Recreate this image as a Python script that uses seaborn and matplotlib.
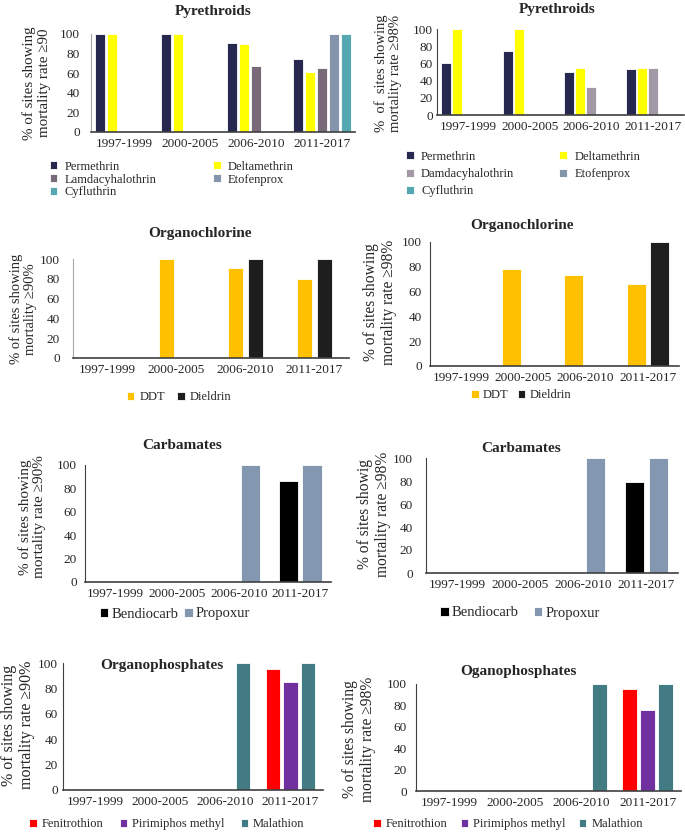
import numpy as np
import pandas as pd
import matplotlib
matplotlib.use("Agg")
import matplotlib.pyplot as plt
import seaborn as sns

# ---------------- data ----------------
periods = ["1997-1999", "2000-2005", "2006-2010", "2011-2017"]

pyr90_series = ["Permethrin", "Deltamethrin", "Lamdacyhalothrin", "Etofenprox", "Cyfluthrin"]
pyr90_permethrin = [100, 100, 91, 74]
pyr90_deltamethrin = [100, 100, 90, 61]
pyr90_lamda = [None, None, 67, 65]
pyr90_etofenprox = [None, None, None, 100]
pyr90_cyfluthrin = [None, None, None, 100]
pyr90_colors = ["#262850", "#ffff00", "#796a79", "#8494ab", "#55a7b2"]

pyr98_series = ["Permethrin", "Deltamethrin", "Damdacyhalothrin", "Etofenprox", "Cyfluthrin"]
pyr98_permethrin = [60, 75, 50, 53]
pyr98_deltamethrin = [100, 100, 55, 55]
pyr98_damda = [None, None, 33, 55]
pyr98_etofenprox = [None, None, None, None]
pyr98_cyfluthrin = [None, None, None, None]
pyr98_colors = ["#262850", "#ffff00", "#a398a6", "#8494ab", "#55a7b2"]

oc_series = ["DDT", "Dieldrin"]
oc90_ddt = [None, 100, 91, 80]
oc90_dieldrin = [None, None, 100, 100]
oc98_ddt = [None, 78, 73, 66]
oc98_dieldrin = [None, None, None, 100]
oc_colors = ["#ffc000", "#1e1e1e"]

carb_series = ["Bendiocarb", "Propoxur"]
carb90_bendiocarb = [None, None, None, 86]
carb90_propoxur = [None, None, 100, 100]
carb98_bendiocarb = [None, None, None, 79]
carb98_propoxur = [None, None, 100, 100]
carb_colors = ["#000000", "#8497b0"]

op_series = ["Fenitrothion", "Pirimiphos methyl", "Malathion"]
op90_fenitrothion = [None, None, None, 95]
op90_pirimiphos = [None, None, None, 85]
op90_malathion = [None, None, 100, 100]
op98_fenitrothion = [None, None, None, 95]
op98_pirimiphos = [None, None, None, 76]
op98_malathion = [None, None, 100, 100]
op_colors = ["#ff0000", "#7030a0", "#427b84"]

# ---------------- style ----------------
sns.set_style("white")
plt.rcParams["font.family"] = ["Liberation Serif", "DejaVu Serif"]

W, H = 685, 832
fig = plt.figure(figsize=(W / 100, H / 100), dpi=100)


def long_df(series, values):
    rows = []
    for s, vals in zip(series, values):
        for p, v in zip(periods, vals):
            if v is not None:
                rows.append({"period": p, "series": s, "value": float(v)})
    return pd.DataFrame(rows, columns=["period", "series", "value"])


def px_rect(x0, x1, ytop, ybot):
    return [x0 / W, 1 - ybot / H, (x1 - x0) / W, (ybot - ytop) / H]


def fx(x):
    return x / W


def fy(y):
    return 1 - y / H


panels = [
    dict(series=pyr90_series,
         values=[pyr90_permethrin, pyr90_deltamethrin, pyr90_lamda, pyr90_etofenprox, pyr90_cyfluthrin],
         colors=pyr90_colors, rect=(91, 355, 34, 132), width=0.91, gap=0.17,
         title="Pyrethroids", tpos=(213, 12),
         ylabel="% of sites showing\nmortality rate \u226590", ypos=(36.5, 83), ypad=8, yfs=10.8,
         leg=dict(ncol=2, order=[0, 2, 4, 1, 3], loc="center left", pos=(50, 179.5), fs=9,
                  hp=0.6, cs=4.5, ls=0.08), lspine="#a6a6a6"),
    dict(series=pyr98_series,
         values=[pyr98_permethrin, pyr98_deltamethrin, pyr98_damda, pyr98_etofenprox, pyr98_cyfluthrin],
         colors=pyr98_colors, rect=(437, 684, 29, 115), width=0.887, gap=0.09,
         title="Pyrethroids", tpos=(557, 9),
         ylabel="%  of  sites showing\nmortality rate \u226598%", ypos=(388, 73), ypad=3, yfs=10.5,
         leg=dict(ncol=2, order=[0, 2, 4, 1, 3], loc="center left", pos=(406, 174), fs=9,
                  hp=0.6, cs=3.6, ls=0.42), lspine="#404040"),
    dict(series=oc_series, values=[oc90_ddt, oc90_dieldrin],
         colors=oc_colors, rect=(73, 349, 259, 358), width=0.566, gap=0.23,
         title="Organochlorine", tpos=(200, 233),
         ylabel="% of sites showing\nmortality \u226590%", ypos=(23, 309), ypad=9.4, yfs=10.5,
         leg=dict(ncol=2, order=[0, 1], loc="center", pos=(179, 397), fs=9,
                  hp=0.4, cs=0.96, ls=0.2), lspine="#a6a6a6"),
    dict(series=oc_series, values=[oc98_ddt, oc98_dieldrin],
         colors=oc_colors, rect=(430, 679, 242, 366), width=0.758, gap=0.19,
         title="Organochlorine", tpos=(522, 226),
         ylabel="% of sites showing\nmortality rate \u226598%", ypos=(380, 302), ypad=5.8, yfs=11.2,
         leg=dict(ncol=2, order=[0, 1], loc="center", pos=(521, 395), fs=9,
                  hp=0.35, cs=0.72, ls=0.2), lspine="#404040"),
    dict(series=carb_series, values=[carb90_bendiocarb, carb90_propoxur],
         colors=carb_colors, rect=(85, 331, 465, 582), width=0.764, gap=0.19,
         title="Carbamates", tpos=(182, 445),
         ylabel="% of sites showing\nmortality rate \u226590%", ypos=(32, 517), ypad=5.8, yfs=11,
         leg=dict(ncol=2, order=[0, 1], loc="center", pos=(175, 614), fs=10.5,
                  hp=0.2, cs=0.4, ls=0.2), lspine="#404040"),
    dict(series=carb_series, values=[carb98_bendiocarb, carb98_propoxur],
         colors=carb_colors, rect=(426, 678, 458, 573), width=0.76, gap=0.21,
         title="Carbamates", tpos=(521, 449),
         ylabel="% of sites showig\nmortality rate \u226598%", ypos=(374, 514), ypad=9.4, yfs=11.2,
         leg=dict(ncol=2, order=[0, 1], loc="center", pos=(520, 613), fs=10.5,
                  hp=0.2, cs=1.0, ls=0.2), lspine="#404040"),
    dict(series=op_series, values=[op90_fenitrothion, op90_pirimiphos, op90_malathion],
         colors=op_colors, rect=(63, 323, 663, 790), width=0.83, gap=0.22,
         title="Organophosphates", tpos=(162, 666),
         ylabel="% of sites showing\nmortality rate \u226590%", ypos=(18, 725), ypad=3.6, yfs=11.5,
         leg=dict(ncol=3, order=[0, 1, 2], loc="center", pos=(167, 824), fs=9,
                  hp=0.4, cs=1.28, ls=0.2), lspine="#404040"),
    dict(series=op_series, values=[op98_fenitrothion, op98_pirimiphos, op98_malathion],
         colors=op_colors, rect=(416, 681, 684, 791), width=0.82, gap=0.17,
         title="Oganophosphates", tpos=(518, 672),
         ylabel="% of sites showing\nmortality rate \u226598%", ypos=(359, 739), ypad=6.5, yfs=11.2,
         leg=dict(ncol=3, order=[0, 1, 2], loc="center", pos=(508, 824), fs=9,
                  hp=0.4, cs=1.05, ls=0.2), lspine="#404040"),
]

for p in panels:
    ax = fig.add_axes(px_rect(*p["rect"]))
    df = long_df(p["series"], p["values"])
    sns.barplot(data=df, x="period", y="value", hue="series",
                order=periods, hue_order=p["series"], palette=p["colors"],
                width=p["width"], gap=p["gap"], saturation=1, errorbar=None,
                edgecolor="white", linewidth=0.6, ax=ax)
    ax.set_xlim(-0.5, 3.5)
    ax.set_ylim(0, 100)
    ax.set_yticks(range(0, 101, 20))
    ax.set_xlabel("")
    ax.set_ylabel("")
    ax.tick_params(axis="both", length=0, labelsize=9.5)
    ax.tick_params(axis="y", pad=p["ypad"])
    ax.tick_params(axis="x", pad=4)
    for side in ["top", "right"]:
        ax.spines[side].set_visible(False)
    ax.spines["left"].set_color(p["lspine"])
    ax.spines["left"].set_linewidth(0.8)
    ax.spines["bottom"].set_color("#404040")
    ax.spines["bottom"].set_linewidth(1.2)
    ax.set_facecolor("none")

    leg = ax.get_legend()
    handles = list(leg.legend_handles)
    labels = [t.get_text() for t in leg.get_texts()]
    leg.remove()
    L = p["leg"]
    hs = [handles[i] for i in L["order"]]
    ls = [labels[i] for i in L["order"]]
    fig.legend(hs, ls, ncol=L["ncol"], loc=L["loc"],
               bbox_to_anchor=(fx(L["pos"][0]), fy(L["pos"][1])),
               frameon=False, fontsize=L["fs"], handlelength=0.6, handleheight=0.6,
               handletextpad=L["hp"], columnspacing=L["cs"], labelspacing=L["ls"],
               borderpad=0, borderaxespad=0)

    fig.text(fx(p["tpos"][0]), fy(p["tpos"][1]), p["title"], ha="center", va="center",
             fontsize=11, fontweight="bold")
    fig.text(fx(p["ypos"][0]), fy(p["ypos"][1]), p["ylabel"], rotation=90,
             ha="center", va="center", fontsize=p["yfs"], linespacing=1.15)

fig.savefig("out.png", dpi=100)
